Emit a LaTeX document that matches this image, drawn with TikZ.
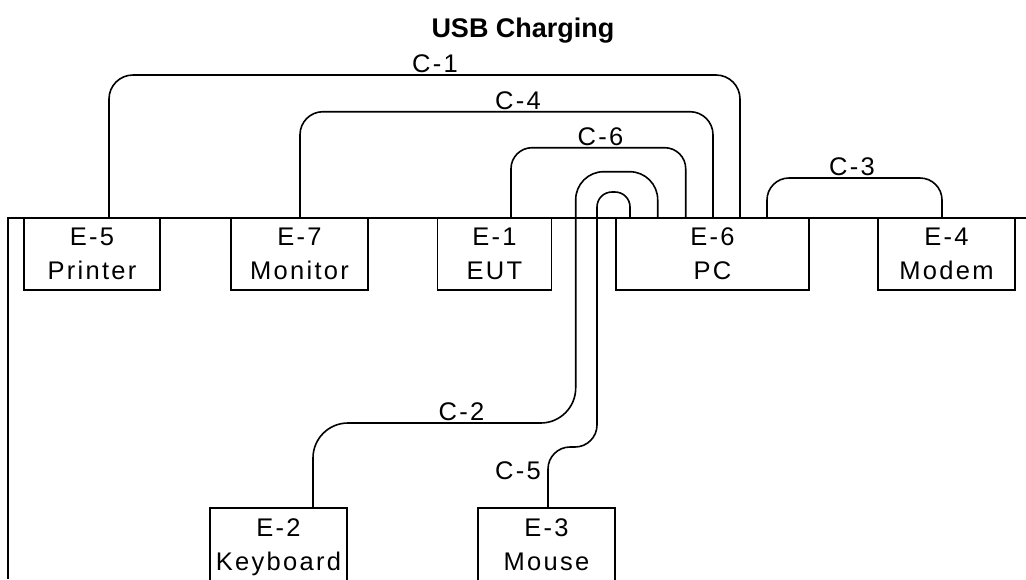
\documentclass[tikz,border=0pt]{standalone}
\usepackage{fontspec}
\setmainfont{Liberation Sans}
\newfontfamily\lblfont[LetterSpace=9]{Liberation Sans}
\usetikzlibrary{calc}
\begin{document}
\begin{tikzpicture}[x=1pt,y=-1pt,
  lw/.style={line width=1.6pt},
  unit/.style={draw, lw, inner sep=0pt, outer sep=0pt, anchor=north west,
    minimum height=72pt, align=center, text depth=1pt,
    font=\lblfont\fontsize{25.5}{34}\selectfont},
  wire/.style={lw, rounded corners=#1},
  wire/.default=22pt,
  clabel/.style={anchor=south, inner sep=2pt, font=\lblfont\fontsize{25.5}{30}\selectfont},
  title/.style={font=\bfseries\fontsize{27}{32}\selectfont}]
\useasboundingbox (0,0) rectangle (1026,579);
% title
\node[title] (ttl) at (523,31) {USB Charging};
% table edge
\coordinate (tl) at (8,218);
\coordinate (tr) at (1026,218);
\coordinate (bl) at (8,579);
\draw[lw] (tr) -- (tl) -- (bl);
% units
\node[unit, minimum width=136pt] (e5) at (24,218) {E-5\\Printer};
\node[unit, minimum width=137pt] (e7) at (231,218) {E-7\\Monitor};
\node[unit, minimum width=114pt] (e1) at (437.5,218) {E-1\\EUT};
\node[unit, minimum width=193pt] (e6) at (616,218) {E-6\\PC};
\node[unit, minimum width=137.5pt] (e4) at (877.7,218) {E-4\\Modem};
\node[unit, minimum width=137pt, minimum height=75pt] (e2) at (210,508) {E-2\\Keyboard};
\node[unit, minimum width=137pt, minimum height=75pt] (e3) at (478,508) {E-3\\Mouse};
% C-1
\draw[wire=24pt] ($(e5.north west)+(85,0)$) -- ++(0,-143) -| ($(e6.north west)+(124,0)$);
\node[clabel] (c1) at (435,75) {C-1};
% C-4
\draw[wire=23pt] ($(e7.north west)+(69,0)$) -- ++(0,-106.3) -| ($(e6.north west)+(97,0)$);
\node[clabel] (c4) at (518,111.7) {C-4};
% C-6
\draw[wire=21pt] ($(e1.north west)+(73.5,0)$) -- ++(0,-70.3) -| ($(e6.north west)+(69.7,0)$);
\node[clabel] (c6) at (600.5,147.7) {C-6};
% C-3
\draw[wire=22pt] ($(e6.north west)+(151,0)$) -- ++(0,-40) -| ($(e4.north west)+(64.3,0)$);
\node[clabel] (c3) at (852,178) {C-3};
% C-2
\draw[wire=28pt] ($(e6.north west)+(41.7,0)$) -- ++(0,-46.3) -- ++(-82,0) -- ++(0,120)
  [rounded corners=35pt] -- ++(0,131.3) -- ($(e2.north west)+(103,-85)$) -- ($(e2.north west)+(103,0)$);
\node[clabel] (c2) at (461.5,423) {C-2};
% C-5
\draw[wire=15pt] ($(e6.north west)+(14,0)$) -- ++(0,-26) -- ++(-33,0) -- ++(0,100)
  [rounded corners=22pt] -- ++(0,155) -- ($(e3.north west)+(70,-61)$) -- ($(e3.north west)+(70,0)$);
\node[clabel, anchor=east, inner sep=0pt] (c5) at (541,471) {C-5};
\end{tikzpicture}
\end{document}
